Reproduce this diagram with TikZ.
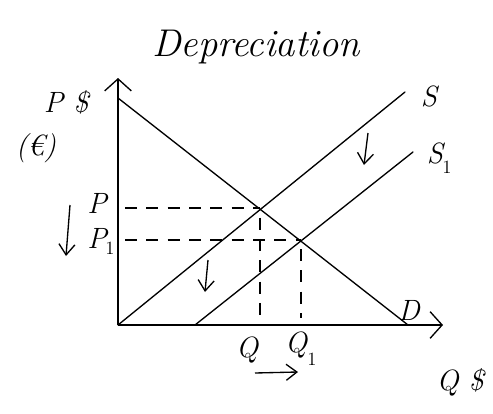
\documentclass[tikz,border=0pt]{standalone}
\usetikzlibrary{arrows.meta}
\begin{document}
\begin{tikzpicture}[x=0.75pt,y=-0.75pt,
  curve/.style={line width=1pt,line cap=round},
  dsh/.style={line width=1pt,dash pattern=on 9pt off 7pt},
  axisarrow/.style={line width=1pt,-{Straight Barb[length=9pt,width=20pt,line width=1pt]}},
  shiftarrow/.style={line width=1pt,-{Straight Barb[length=8pt,width=12pt,line width=1pt]}},
  lbl/.style={inner sep=0pt,font=\fontsize{22}{24}\selectfont\itshape},
  sub/.style={inner sep=0pt,font=\fontsize{14}{16}\selectfont}]
\useasboundingbox (0,0) rectangle (493,414);
% key points
\coordinate (O) at (118,325);
\coordinate (Ytop) at (118,78);
\coordinate (Xend) at (443,325);
\coordinate (Dtop) at (118,98);
\coordinate (Dbot) at (408,325);
\coordinate (Stop) at (405,92);
\coordinate (S1bot) at (195,325);
\coordinate (S1top) at (413,152);
\coordinate (E) at (260,209.5);
\coordinate (E1) at (301,241);
% axes
\draw[axisarrow] (O) -- (Ytop);
\draw[axisarrow] (O) -- (Xend);
% curves
\draw[curve] (Dtop) -- (Dbot);
\draw[curve] (O) -- (Stop);
\draw[curve] (S1bot) -- (S1top);
% dashed guides
\coordinate (Pl) at (125,208);
\coordinate (P1l) at (125,240);
\draw[dsh] (Pl) -- (Pl -| E);
\draw[dsh] (P1l) -- (P1l -| E1);
\draw[dsh] ([yshift=-6]E) -- ([yshift=5]E |- O);
\draw[dsh] ([yshift=-6]E1) -- ([yshift=5]E1 |- O);
% title
\node[inner sep=0pt,font=\fontsize{29}{33}\selectfont\itshape] (title) at (256,47) {Depreciation};
% axis labels
\node[lbl] (Pd) at (66,102) {P \$};
\node[lbl] (eur) at (36,148) {(\texteuro)};
\node[lbl] (P) at (97,203) {P};
\node[lbl] (P1) at (97,238) {P};
\node[sub] (P1s) at (110,248) {1};
\node[lbl] (Q) at (247,350) {Q};
\node[lbl] (Q1) at (296,345) {Q};
\node[sub] (Q1s) at (312,359) {1};
\node[lbl] (Qd) at (460,382) {Q \$};
\node[lbl] (S) at (429,96) {S};
\node[lbl] (S1) at (435,153) {S};
\node[sub] (S1s) at (447,167) {1};
\node[lbl] (D) at (409,310) {D};
% shift arrows
\coordinate (a1s) at (70,205);
\coordinate (a1e) at (66,256);
\draw[shiftarrow] (a1s) -- (a1e);
\coordinate (a2s) at (368,133);
\coordinate (a2e) at (364,165);
\draw[shiftarrow] (a2s) -- (a2e);
\coordinate (a3s) at (208,260);
\coordinate (a3e) at (205,292);
\draw[shiftarrow] (a3s) -- (a3e);
\coordinate (a4s) at (255,373);
\coordinate (a4e) at (298,372);
\draw[shiftarrow] (a4s) -- (a4e);
\end{tikzpicture}
\end{document}
